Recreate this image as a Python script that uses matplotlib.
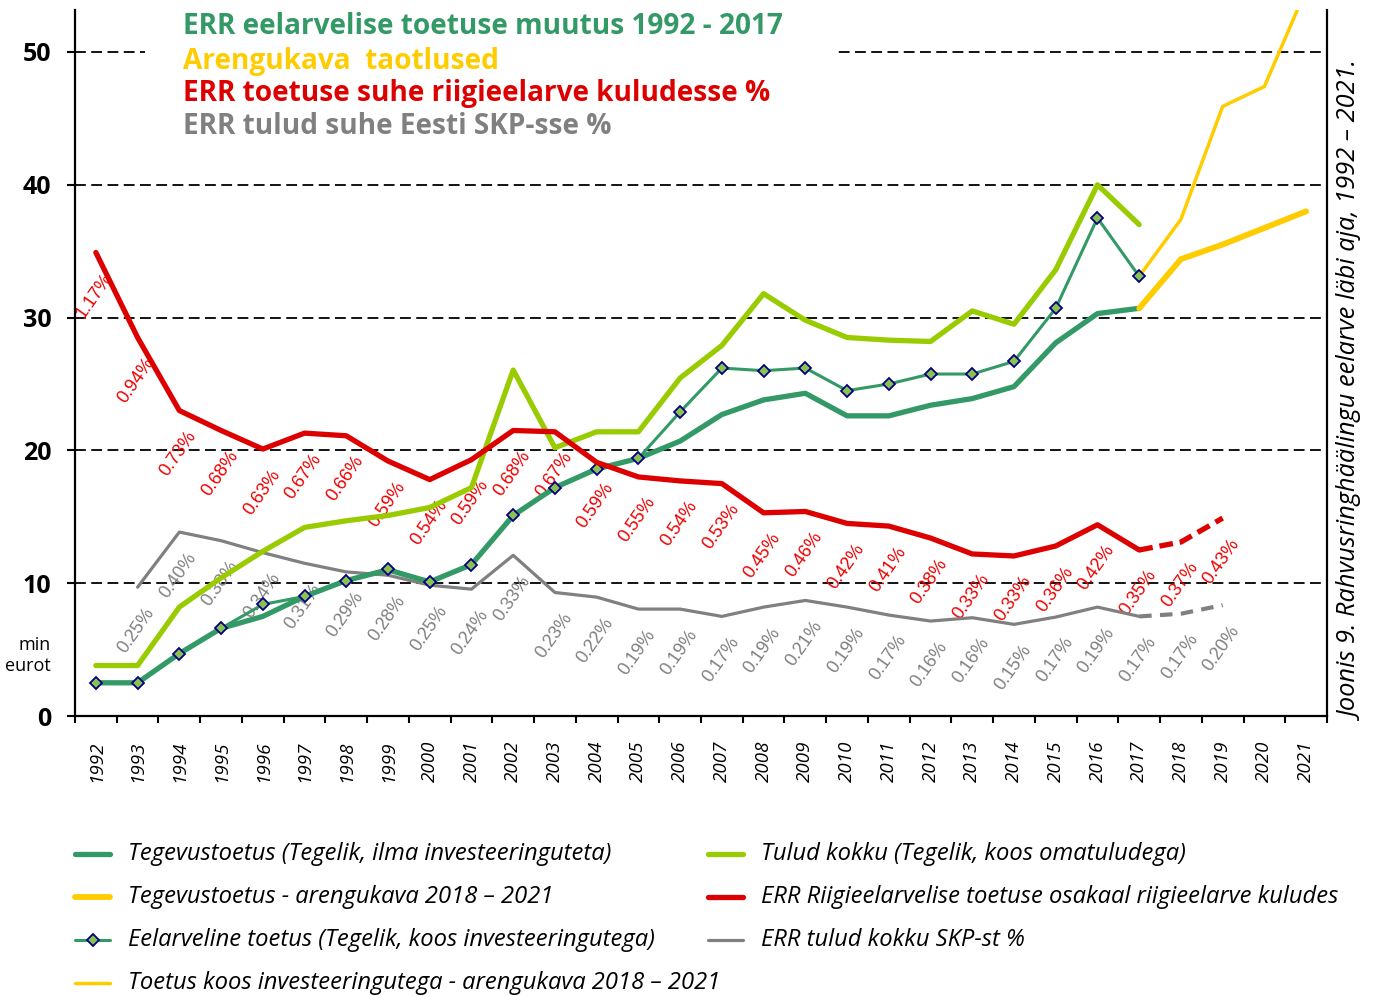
import matplotlib
matplotlib.use('Agg')
import matplotlib.pyplot as plt
import numpy as np
from matplotlib.lines import Line2D
from matplotlib.patches import Rectangle

# ---------------- data ----------------
years = [str(y) for y in range(1992, 2022)]

# 1992-2017
tegevustoetus = [2.5, 2.5, 4.7, 6.6, 7.5, 9.0, 10.2, 11.0, 10.1, 11.4, 15.1, 17.2, 18.6,
                 19.4, 20.7, 22.7, 23.8, 24.3, 22.6, 22.6, 23.4, 23.9, 24.8, 28.1, 30.3, 30.7]
eelarveline = [2.5, 2.5, 4.7, 6.6, 8.4, 9.0, 10.2, 11.1, 10.1, 11.4, 15.1, 17.2, 18.6,
               19.4, 22.9, 26.2, 26.0, 26.2, 24.5, 25.0, 25.75, 25.75, 26.7, 30.7, 37.5, 33.1]
tulud_kokku = [3.8, 3.8, 8.2, 10.4, 12.4, 14.2, 14.7, 15.1, 15.7, 17.2, 26.05, 20.2, 21.4,
               21.4, 25.45, 27.9, 31.8, 29.8, 28.5, 28.3, 28.2, 30.5, 29.5, 33.6, 40.0, 37.0]
# 2017-2021
arengukava_tegevus = [30.7, 34.4, 35.5, 36.75, 38.0]
arengukava_invest = [33.1, 37.4, 45.9, 47.4, 54.7]
# 1992-2019 (plotted on same scale), labels in %
riigieelarve_osakaal = [34.9, 28.5, 23.0, 21.5, 20.1, 21.3, 21.1, 19.2, 17.8, 19.3, 21.5, 21.4,
                        19.1, 18.0, 17.7, 17.5, 15.3, 15.4, 14.5, 14.3, 13.4, 12.2, 12.05,
                        12.8, 14.4, 12.5, 13.1, 14.9]
riigieelarve_labels = ["1.17%", "0.94%", "0.73%", "0.68%", "0.63%", "0.67%", "0.66%", "0.59%",
                       "0.54%", "0.59%", "0.68%", "0.67%", "0.59%", "0.55%", "0.54%", "0.53%",
                       "0.45%", "0.46%", "0.42%", "0.41%", "0.38%", "0.33%", "0.33%", "0.36%",
                       "0.42%", "0.35%", "0.37%", "0.43%"]
# 1993-2019
skp_osakaal = [9.7, 13.85, 13.2, 12.3, 11.5, 10.85, 10.6, 9.85, 9.55, 12.1, 9.3, 8.95, 8.05,
               8.05, 7.5, 8.2, 8.7, 8.2, 7.6, 7.15, 7.4, 6.9, 7.45, 8.2, 7.5, 7.7, 8.35]
skp_labels = ["0.25%", "0.40%", "0.38%", "0.34%", "0.31%", "0.29%", "0.28%", "0.25%", "0.24%",
              "0.33%", "0.23%", "0.22%", "0.19%", "0.19%", "0.17%", "0.19%", "0.21%", "0.19%",
              "0.17%", "0.16%", "0.16%", "0.15%", "0.17%", "0.19%", "0.17%", "0.17%", "0.20%"]

yticks = [0, 10, 20, 30, 40, 50]

titles = ["ERR eelarvelise toetuse muutus 1992 - 2017",
          "Arengukava  taotlused",
          "ERR toetuse suhe riigieelarve kuludesse %",
          "ERR tulud suhe Eesti SKP-sse %"]
caption = "Joonis 9. Rahvusringhäälingu eelarve läbi aja, 1992 – 2021."

# ---------------- style ----------------
C_DGREEN = "#339966"
C_LGREEN = "#99CC00"
C_YELLOW = "#FFCC00"
C_RED = "#DD0000"
C_RED_LAB = "#EE0000"
C_GRAY = "#808080"
FONT = "Open Sans"

W, H, DPI = 1382, 996, 100
fig = plt.figure(figsize=(W / DPI, H / DPI), dpi=DPI)
fig.patch.set_facecolor("white")
renderer = fig.canvas.get_renderer()

def fx(px):
    return px / W

def fy(py):
    return 1 - py / H

def fit_size(text, target_px, **kw):
    t = fig.text(0, 0, text, fontsize=20, **kw)
    w = t.get_window_extent(renderer).width
    t.remove()
    return 20 * target_px / w

ax = fig.add_axes([fx(75), fy(716), (1327 - 75) / W, (716 - 10) / H])
x = np.arange(len(years))

# lines
l_skp, = ax.plot(x[1:26], skp_osakaal[:25], color=C_GRAY, lw=2.3, solid_capstyle='round',
                 zorder=2)
ax.plot(x[25:28], skp_osakaal[24:27], color=C_GRAY, lw=3.0, linestyle=(0, (3.0, 2.0)),
        zorder=2)
l_tulud, = ax.plot(x[:26], tulud_kokku, color=C_LGREEN, lw=3.8, solid_capstyle='round', zorder=3)
l_teg, = ax.plot(x[:26], tegevustoetus, color=C_DGREEN, lw=3.8, solid_capstyle='round', zorder=4)
l_eel, = ax.plot(x[:26], eelarveline, color=C_DGREEN, lw=2.2, marker='D', ms=6.5,
                 mfc="#8CC152", mec="#000080", mew=1.3, zorder=5)
l_arinv, = ax.plot(x[25:30], arengukava_invest, color=C_YELLOW, lw=2.5, solid_capstyle='round',
                   zorder=4)
l_arteg, = ax.plot(x[25:30], arengukava_tegevus, color=C_YELLOW, lw=4.2, solid_capstyle='round',
                   zorder=4)
l_red, = ax.plot(x[:26], riigieelarve_osakaal[:26], color=C_RED, lw=3.8, solid_capstyle='round',
                 zorder=6)
ax.plot(x[25:28], riigieelarve_osakaal[25:28], color=C_RED, lw=3.8,
        linestyle=(0, (2.6, 1.3)), zorder=6)

# data labels
LABSIZE = 13
for i, lab in enumerate(riigieelarve_labels):
    ax.annotate(lab, (x[i], riigieelarve_osakaal[i]), xytext=(-1, -43),
                textcoords='offset pixels', ha='center', va='center', rotation=55,
                color=C_RED_LAB, fontsize=LABSIZE, family="Liberation Sans", zorder=1.8)
for i, lab in enumerate(skp_labels):
    ax.annotate(lab, (x[i + 1], skp_osakaal[i]), xytext=(-1, -43),
                textcoords='offset pixels', ha='center', va='center', rotation=55,
                color=C_GRAY, fontsize=LABSIZE, family="Liberation Sans", zorder=1.8)

# axes
ax.set_xlim(-0.5, len(years) - 0.5)
ax.set_ylim(0, 53.16)
ax.set_axisbelow(True)
ax.yaxis.grid(True, color="black", lw=1.3, linestyle=(0, (6, 3)))
ax.set_yticks(yticks)
ax.set_yticklabels([str(v) for v in yticks], fontsize=18, family=FONT, fontweight='bold')
ax.tick_params(axis='y', direction='out', length=6, width=1.5, pad=11)
ax.set_xticks(x)
ax.set_xticklabels(years, rotation=90, fontsize=13.5, family=FONT, style='italic')
ax.tick_params(axis='x', which='major', length=0, pad=18)
ax.set_xticks(np.arange(-0.5, len(years)), minor=True)
ax.tick_params(axis='x', which='minor', direction='out', length=5, width=1.5)
for s in ['left', 'right', 'bottom']:
    ax.spines[s].set_linewidth(1.6)
ax.spines['top'].set_visible(False)

# white area behind titles
ax.add_patch(Rectangle((fx(145), fy(140)), fx(835) - fx(145), fy(0) - fy(140),
                       transform=fig.transFigure, facecolor='white', edgecolor='none',
                       zorder=1, clip_on=False))

tsize = fit_size(titles[0], 600, family=FONT, fontweight='bold')
for t, c, yy in zip(titles, [C_DGREEN, C_YELLOW, C_RED, C_GRAY], [27, 61, 94, 127]):
    fig.text(fx(183), fy(yy), t, color=c, fontsize=tsize, family=FONT, fontweight='bold',
             ha='left', va='center', zorder=10)

# unit
fig.text(fx(51), fy(645), "min", fontsize=13, family=FONT, ha='right', va='center')
fig.text(fx(51), fy(666), "eurot", fontsize=13, family=FONT, ha='right', va='center')

# caption
csize = fit_size(caption, 658, family=FONT, style='italic')
fig.text(fx(1352), fy(391), caption, rotation=90, fontsize=csize, family=FONT,
         style='italic', ha='center', va='center')

# legend (manual, two columns)
lsize = fit_size("Toetus koos investeeringutega - arengukava 2018 – 2021", 592,
                 family=FONT, style='italic')
entries = [
    (l_teg, "Tegevustoetus (Tegelik, ilma investeeringuteta)", 75, 0),
    (l_arteg, "Tegevustoetus - arengukava 2018 – 2021", 75, 1),
    (l_eel, "Eelarveline toetus (Tegelik, koos investeeringutega)", 75, 2),
    (l_arinv, "Toetus koos investeeringutega - arengukava 2018 – 2021", 75, 3),
    (l_tulud, "Tulud kokku (Tegelik, koos omatuludega)", 708, 0),
    (l_red, "ERR Riigieelarvelise toetuse osakaal riigieelarve kuludes", 708, 1),
    (l_skp, "ERR tulud kokku SKP-st %", 708, 2),
]
for art, lab, x0, row in entries:
    yy = 854 + 43 * row
    fig.add_artist(Line2D([fx(x0), fx(x0 + 35)], [fy(yy), fy(yy)], color=art.get_color(),
                          lw=art.get_linewidth(), solid_capstyle='round'))
    if art.get_marker() not in (None, 'None', ''):
        fig.add_artist(Line2D([fx(x0 + 17.5)], [fy(yy)], marker=art.get_marker(),
                              ms=art.get_markersize() * 0.9, mfc=art.get_markerfacecolor(),
                              mec=art.get_markeredgecolor(), mew=art.get_markeredgewidth(),
                              linestyle='none'))
    fig.text(fx(x0 + 53), fy(yy), lab, fontsize=lsize, family=FONT, style='italic',
             ha='left', va='center')

fig.savefig("out.png", dpi=DPI)
